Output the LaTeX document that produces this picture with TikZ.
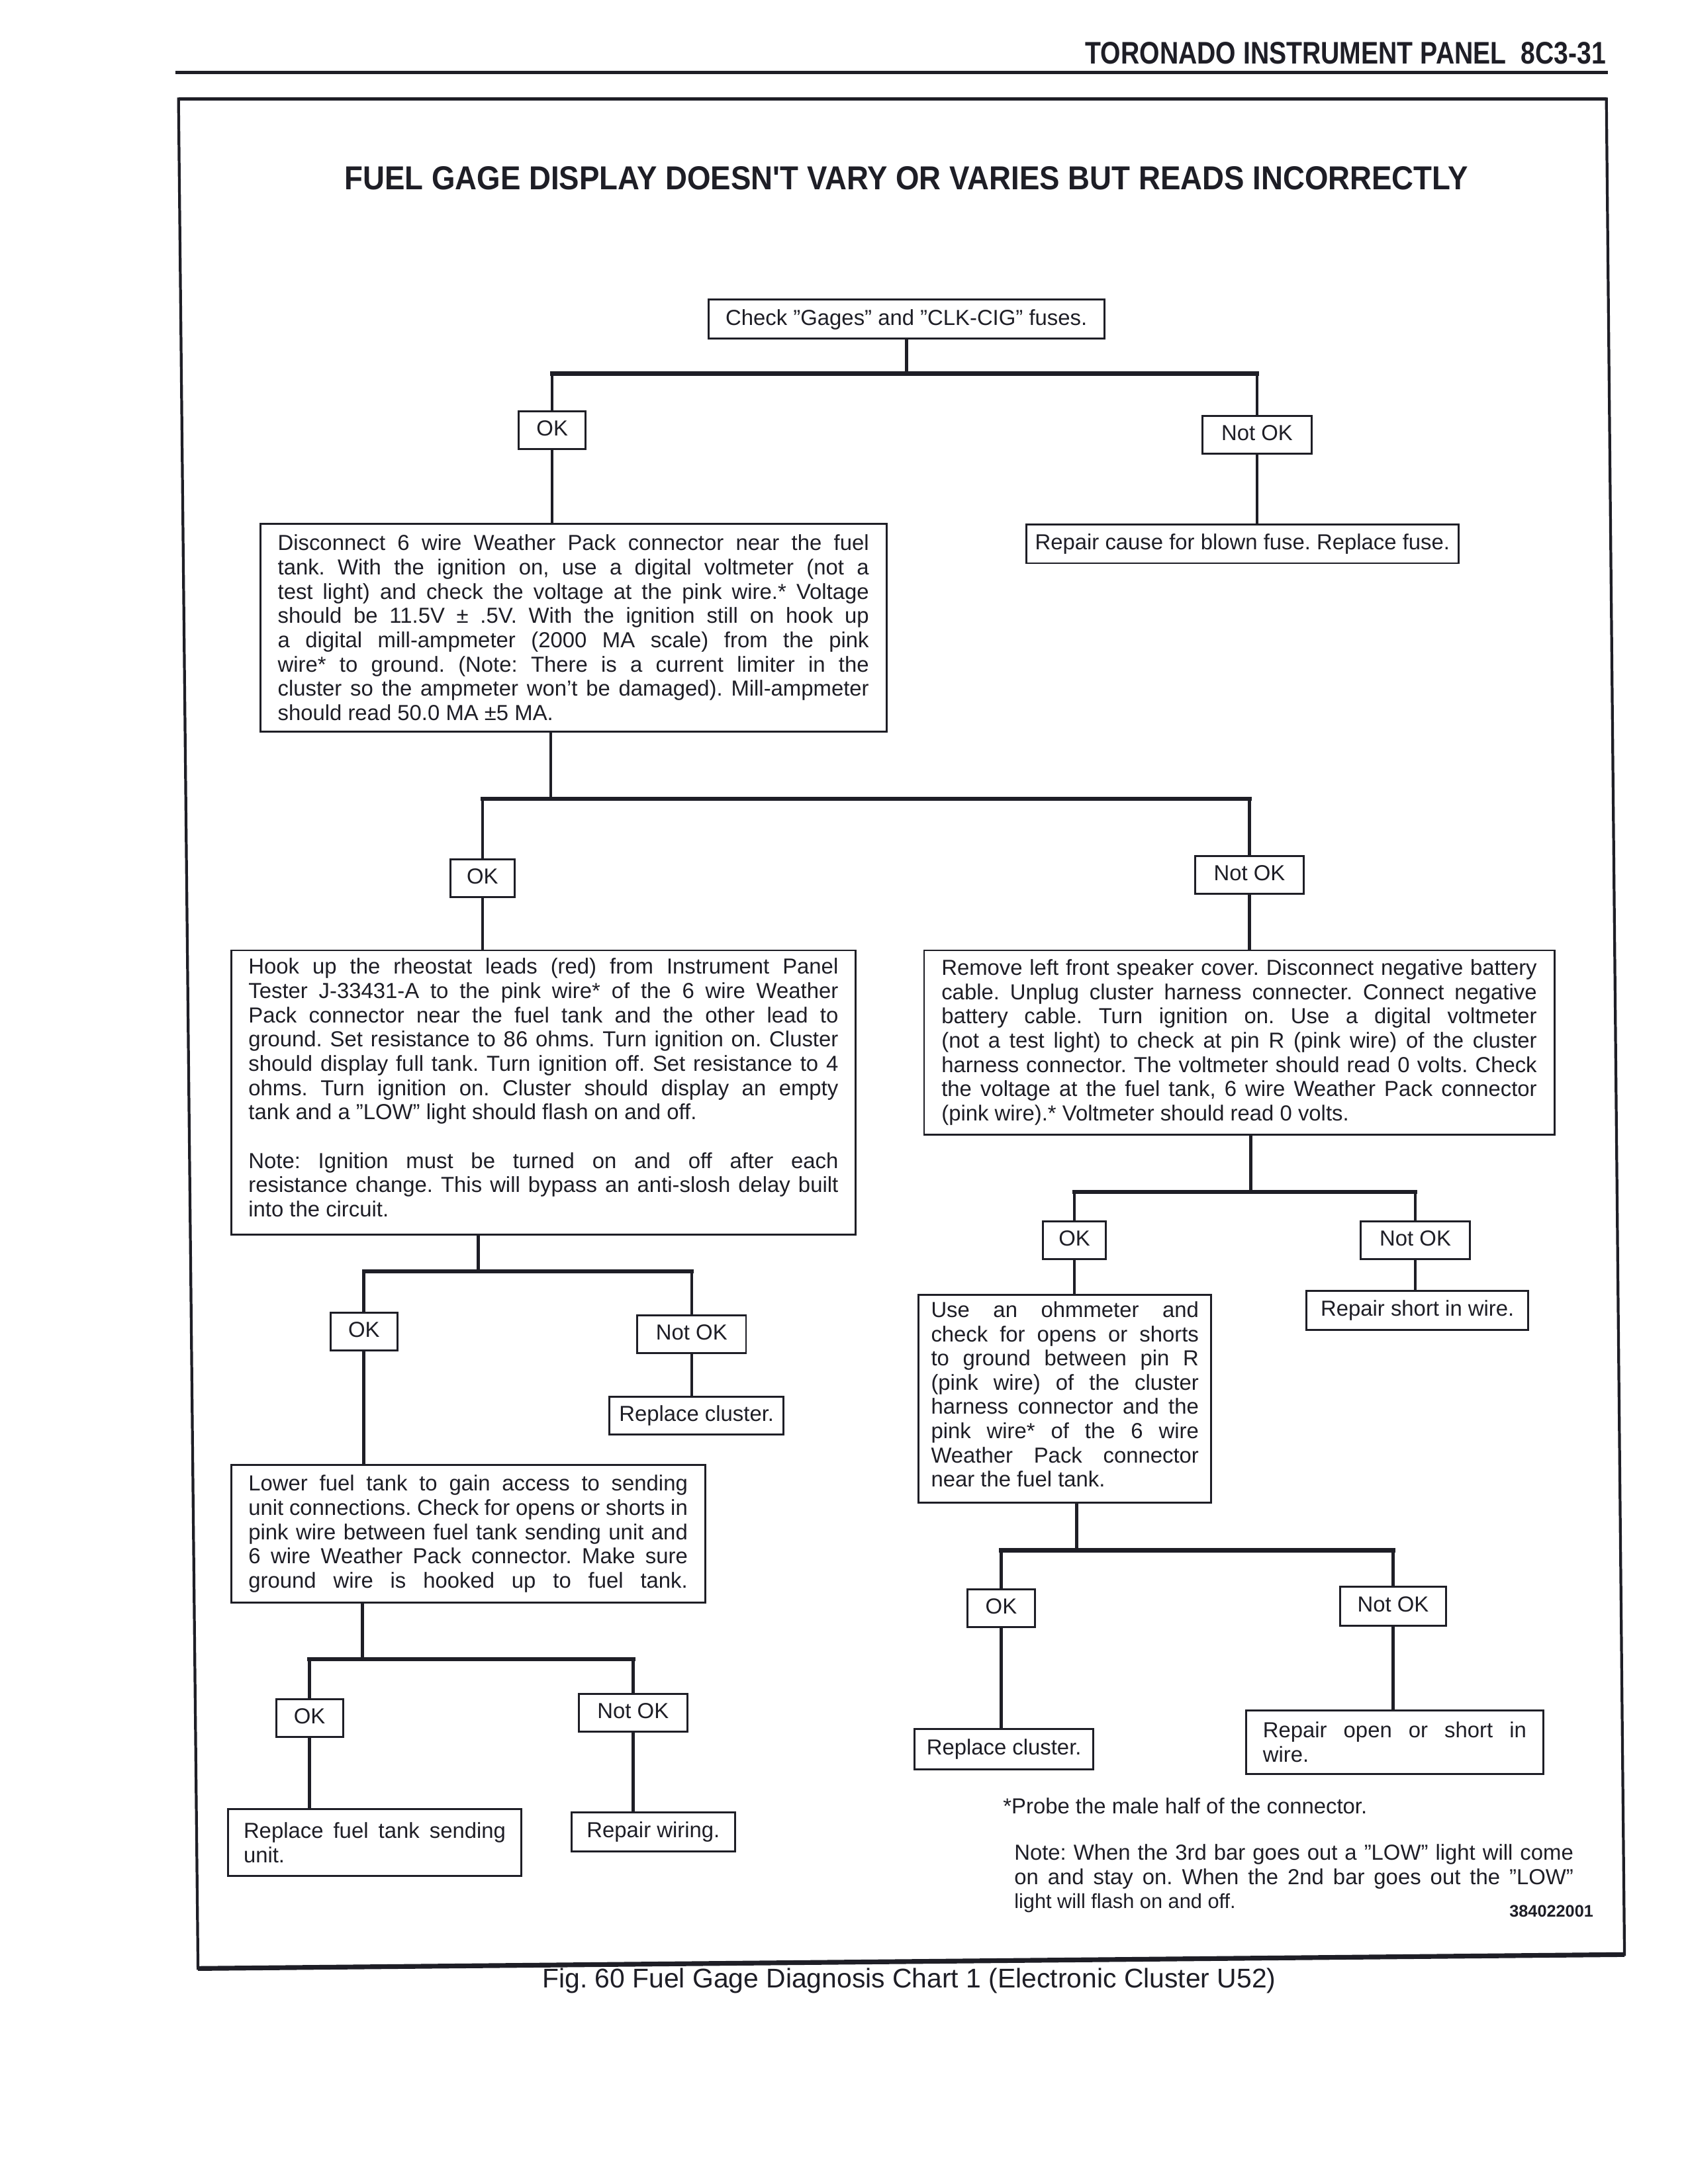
\documentclass[tikz,border=0pt]{standalone}
\usepackage{fontspec}
\setmainfont{Liberation Sans}
\newfontfamily\hdrfam[FakeStretch=0.83]{Liberation Sans}
\newfontfamily\titlefam[FakeStretch=0.91]{Liberation Sans}
\setlength\parindent{0pt}
\frenchspacing
\definecolor{ink}{RGB}{30,30,38}
\newcommand\bodyfont{\fontsize{7.8}{8.7}\selectfont}
\newcommand\jl[1]{\hbox to \hsize{#1}}
\newcommand\lastl[1]{\hbox{#1}}
\newcommand\pbox[2]{\vbox{\hsize=#1\relax #2}}
\tikzset{
  lbl/.style={draw=ink, line width=0.7pt, text=ink, font=\bodyfont, inner xsep=2pt, inner ysep=0pt,
    minimum height=13.5pt, minimum width=#1, text height=5.7pt, text depth=1.6pt},
  txtbox/.style={draw=ink, line width=0.7pt, text=ink, font=\bodyfont, anchor=north west, inner ysep=0pt},
  vline/.style={draw=ink, line width=1.1pt},
  hbar/.style={draw=ink, line width=1.5pt, line cap=rect},
}
\begin{document}
\begin{tikzpicture}[x=0.5pt,y=-0.5pt]
\fill[white] (0,0) rectangle (1210.5,1566.6);
\useasboundingbox (0,0) rectangle (1210.5,1566.6);

% header and frame
\node[anchor=base east, inner sep=0pt, text=ink, font=\hdrfam\bfseries\fontsize{11.2}{13}\selectfont] (hdr) at (1152,46) {TORONADO INSTRUMENT PANEL\ \ 8C3-31};
\draw[ink, line width=1.3pt] (126,52) -- (1153,52);
\draw[ink, line width=1.0pt] (128,71) -- (1152,71) -- (1165,1402) -- (142,1412) -- cycle;
\draw[ink, line width=1.7pt] (142,1412) -- (1165,1402);
\draw[ink, line width=1.3pt] (128,71) -- (1152,71);

\node[anchor=base, inner sep=0pt, text=ink, font=\titlefam\bfseries\fontsize{11.9}{14}\selectfont] (title) at (650,136) {FUEL GAGE DISPLAY DOESN'T VARY OR VARIES BUT READS INCORRECTLY};

% first level
\node[lbl=142pt, minimum height=14pt] (chk) at (650,229) {Check ''Gages'' and ''CLK-CIG'' fuses.};
\node[lbl=24pt] (ok1) at (396,308.5) {OK};
\node[lbl=39pt] (nok1) at (901.5,312) {Not OK};
\node[lbl=155pt, minimum height=14pt] (rfuse) at (891,390) {Repair cause for blown fuse. Replace fuse.};

\node[txtbox, inner xsep=6.25pt, minimum height=74.5pt] (dis) at (186,375) {\pbox{212pt}{%
\jl{Disconnect 6 wire Weather Pack connector near the fuel}
\jl{tank. With the ignition on, use a digital voltmeter (not a}
\jl{test light) and check the voltage at the pink wire.* Voltage}
\jl{should be 11.5V ± .5V. With the ignition still on hook up}
\jl{a digital mill-ampmeter (2000 MA scale) from the pink}
\jl{wire* to ground. (Note: There is a current limiter in the}
\jl{cluster so the ampmeter won't be damaged). Mill-ampmeter}
\lastl{should read 50.0 MA ±5 MA.}}};

% second level
\node[lbl=23pt] (ok2) at (346,630) {OK};
\node[lbl=39pt] (nok2) at (896,627.5) {Not OK};

\node[txtbox, inner xsep=6.25pt, minimum height=102pt] (hook) at (165,681) {\pbox{211.5pt}{%
\jl{Hook up the rheostat leads (red) from Instrument Panel}
\jl{Tester J-33431-A to the pink wire* of the 6 wire Weather}
\jl{Pack connector near the fuel tank and the other lead to}
\jl{ground. Set resistance to 86 ohms. Turn ignition on. Cluster}
\jl{should display full tank. Turn ignition off. Set resistance to 4}
\jl{ohms. Turn ignition on. Cluster should display an empty}
\lastl{tank and a ''LOW'' light should flash on and off.}
\vskip 8.7pt
\jl{Note: Ignition must be turned on and off after each}
\jl{resistance change. This will bypass an anti-slosh delay built}
\lastl{into the circuit.}
\vskip 3.5pt}};

\node[txtbox, inner xsep=6.25pt, minimum height=66pt] (remove) at (662,681) {\pbox{213.5pt}{%
\jl{Remove left front speaker cover. Disconnect negative battery}
\jl{cable. Unplug cluster harness connecter. Connect negative}
\jl{battery cable. Turn ignition on. Use a digital voltmeter}
\jl{(not a test light) to check at pin R (pink wire) of the cluster}
\jl{harness connector. The voltmeter should read 0 volts. Check}
\jl{the voltage at the fuel tank, 6 wire Weather Pack connector}
\lastl{(pink wire).* Voltmeter should read 0 volts.}}};

% third level left
\node[lbl=24pt] (ok3) at (261,955) {OK};
\node[lbl=39pt] (nok3) at (496,957) {Not OK};
\node[lbl=62.5pt] (rclu1) at (499.5,1015.5) {Replace cluster.};

\node[txtbox, inner xsep=6.25pt, minimum height=49.5pt] (lower) at (165,1050) {\pbox{157.5pt}{%
\jl{Lower fuel tank to gain access to sending}
\jl{unit connections. Check for opens or shorts in}
\jl{pink wire between fuel tank sending unit and}
\jl{6 wire Weather Pack connector. Make sure}
\jl{ground wire is hooked up to fuel tank.}}};

\node[lbl=24pt] (ok4) at (222,1232.5) {OK};
\node[lbl=39pt] (nok4) at (454,1228.5) {Not OK};

\node[txtbox, inner xsep=5.5pt, minimum height=24pt] (rfuel) at (163,1297) {\pbox{94pt}{%
\jl{Replace fuel tank sending}
\lastl{unit.}}};
\node[lbl=58.5pt, minimum height=14pt] (rwir) at (468.5,1314) {Repair wiring.};

% third level right
\node[lbl=22.5pt] (ok5) at (770.5,889.5) {OK};
\node[lbl=39pt] (nok5) at (1015,889.5) {Not OK};
\node[lbl=79.5pt, minimum height=14pt] (rshort) at (1016.5,940) {Repair short in wire.};

\node[txtbox, inner xsep=4.5pt, minimum height=74.5pt] (use) at (658,928) {\pbox{96pt}{%
\jl{Use an ohmmeter and}
\jl{check for opens or shorts}
\jl{to ground between pin R}
\jl{(pink wire) of the cluster}
\jl{harness connector and the}
\jl{pink wire* of the 6 wire}
\jl{Weather Pack connector}
\lastl{near the fuel tank.}
\vskip 3pt}};

\node[lbl=24pt] (ok6) at (718,1153.5) {OK};
\node[lbl=38pt, minimum height=14pt] (nok6) at (999,1152) {Not OK};
\node[lbl=64pt, minimum height=14.5pt] (rclu2) at (720,1254.5) {Replace cluster.};
\node[txtbox, inner xsep=6pt, minimum height=23pt] (ropen) at (893,1226) {\pbox{94.5pt}{%
\jl{Repair open or short in}
\lastl{wire.}}};

% junction points
\coordinate (j1) at (650,268);
\coordinate (j2) at (395,573);
\coordinate (j3) at (343,912);
\coordinate (j4) at (260,1190);
\coordinate (j5) at (897,855);
\coordinate (j6) at (772,1112);

% connectors
\draw[vline] (chk.south) -- (j1);
\draw[hbar] (ok1 |- j1) -- (nok1 |- j1);
\draw[vline] (ok1 |- j1) -- (ok1.north);
\draw[vline] (nok1 |- j1) -- (nok1.north);
\draw[vline] (ok1.south) -- (ok1 |- dis.north);
\draw[vline] (nok1.south) -- (nok1 |- rfuse.north);

\draw[vline] (dis.south -| j2) -- (j2);
\draw[hbar] (ok2 |- j2) -- (nok2 |- j2);
\draw[vline] (ok2 |- j2) -- (ok2.north);
\draw[vline] (nok2 |- j2) -- (nok2.north);
\draw[vline] (ok2.south) -- (ok2 |- hook.north);
\draw[vline] (nok2.south) -- (nok2 |- remove.north);

\draw[vline] (hook.south -| j3) -- (j3);
\draw[hbar] (ok3 |- j3) -- (nok3 |- j3);
\draw[vline] (ok3 |- j3) -- (ok3.north);
\draw[vline] (nok3 |- j3) -- (nok3.north);
\draw[vline] (ok3.south) -- (ok3 |- lower.north);
\draw[vline] (nok3.south) -- (nok3 |- rclu1.north);

\draw[vline] (lower.south -| j4) -- (j4);
\draw[hbar] (ok4 |- j4) -- (nok4 |- j4);
\draw[vline] (ok4 |- j4) -- (ok4.north);
\draw[vline] (nok4 |- j4) -- (nok4.north);
\draw[vline] (ok4.south) -- (ok4 |- rfuel.north);
\draw[vline] (nok4.south) -- (nok4 |- rwir.north);

\draw[vline] (remove.south -| j5) -- (j5);
\draw[hbar] (ok5 |- j5) -- (nok5 |- j5);
\draw[vline] (ok5 |- j5) -- (ok5.north);
\draw[vline] (nok5 |- j5) -- (nok5.north);
\draw[vline] (ok5.south) -- (ok5 |- use.north);
\draw[vline] (nok5.south) -- (nok5 |- rshort.north);

\draw[vline] (use.south -| j6) -- (j6);
\draw[hbar] (ok6 |- j6) -- (nok6 |- j6);
\draw[vline] (ok6 |- j6) -- (ok6.north);
\draw[vline] (nok6 |- j6) -- (nok6.north);
\draw[vline] (ok6.south) -- (ok6 |- rclu2.north);
\draw[vline] (nok6.south) -- (nok6 |- ropen.north);

% notes
\node[anchor=base west, inner sep=0pt, text=ink, font=\bodyfont] (probe) at (719,1301) {*Probe the male half of the connector.};
\node[anchor=north west, inner sep=0pt, text=ink, font=\bodyfont] (note) at (727,1322.5) {\pbox{200.5pt}{%
\jl{Note: When the 3rd bar goes out a ''LOW'' light will come}
\jl{on and stay on. When the 2nd bar goes out the ''LOW''}
\lastl{\fontsize{7.3}{8.7}\selectfont light will flash on and off.}}};
\node[anchor=base east, inner sep=0pt, text=ink, font=\bfseries\fontsize{6}{7}\selectfont] (code) at (1143,1375) {384022001};

\node[anchor=base, inner sep=0pt, text=ink, font=\fontsize{9.7}{12}\selectfont] (cap) at (652,1426) {Fig. 60 Fuel Gage Diagnosis Chart 1 (Electronic Cluster U52)};
\end{tikzpicture}
\end{document}
